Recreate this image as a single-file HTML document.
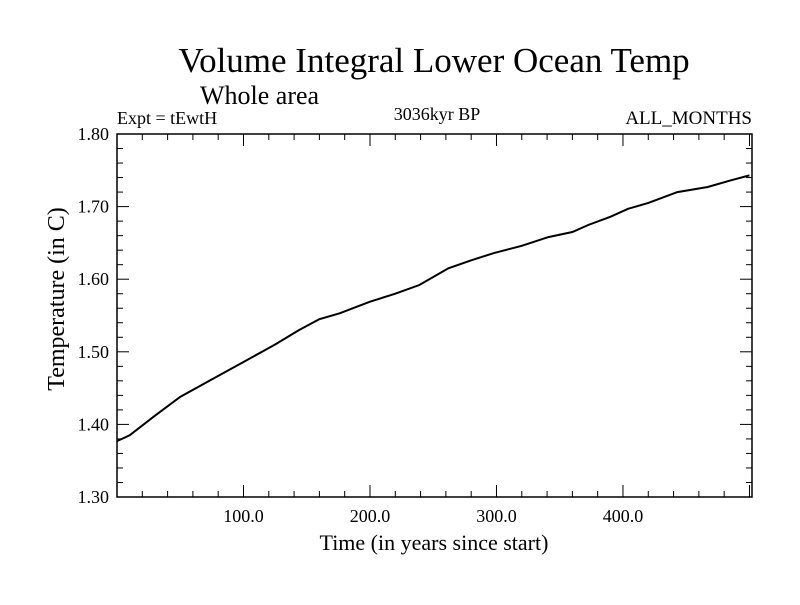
<!DOCTYPE html>
<html><head><meta charset="utf-8"><style>
body{margin:0;background:#fff}
svg text{font-family:"Liberation Serif",serif;fill:#000}
</style></head><body>
<svg width="800" height="600">
<rect width="800" height="600" fill="#fff"/>
<text x="434" y="72" font-size="35" text-anchor="middle">Volume Integral Lower Ocean Temp</text>
<text x="200" y="104" font-size="26">Whole area</text>
<text x="117" y="124" font-size="18">Expt = tEwtH</text>
<text x="437" y="120" font-size="18" text-anchor="middle">3036kyr BP</text>
<text x="752" y="124" font-size="19" text-anchor="end">ALL_MONTHS</text>
<g id="axes"></g>
<text x="434" y="550" font-size="22" text-anchor="middle">Time (in years since start)</text>
<text transform="translate(64,299) rotate(-90)" font-size="24" text-anchor="middle">Temperature (in C)</text>
</svg>
<script>
const years=[0,10,30,50,75,100,125,144,160,176,200,220,239,250,262,280,298,320,341,360,373,390,404,420,443,467,485,500];
const temps=[1.377,1.385,1.412,1.438,1.462,1.486,1.510,1.530,1.545,1.553,1.569,1.580,1.592,1.603,1.615,1.626,1.636,1.646,1.658,1.665,1.675,1.686,1.697,1.705,1.720,1.727,1.736,1.743];
const xTicks=[100,200,300,400];
const yTicks=[1.3,1.4,1.5,1.6,1.7,1.8];
const L=117,R=752,T=134,B=497,X0=0,X1=502,Y0=1.3,Y1=1.8;
const sx=v=>L+(v-X0)/(X1-X0)*(R-L);
const sy=v=>B-(v-Y0)/(Y1-Y0)*(B-T);
const ns='http://www.w3.org/2000/svg';
const g=document.getElementById('axes');
function mk(t,a,p){const e=document.createElementNS(ns,t);for(const k in a)e.setAttribute(k,a[k]);(p||g).appendChild(e);return e;}
const frame=mk('rect',{x:L,y:T,width:R-L,height:B-T,fill:'none',stroke:'#000','stroke-width':1.5});


for(let v=20;v<X1;v+=20){const x=sx(v),big=v%100===0,l=big?12:6;
mk('line',{x1:x,x2:x,y1:B,y2:B-l,stroke:'#000'});mk('line',{x1:x,x2:x,y1:T,y2:T+l,stroke:'#000'});}
for(let i=0;i<=25;i++){const v=Y0+i*0.02,y=sy(v),big=i%5===0,l=big?12:6;
mk('line',{x1:L,x2:L+l,y1:y,y2:y,stroke:'#000'});mk('line',{x1:R,x2:R-l,y1:y,y2:y,stroke:'#000'});}
xTicks.forEach(v=>{const t=mk('text',{x:sx(v),y:B+25,'font-size':18,'text-anchor':'middle'});t.textContent=v.toFixed(1);

});
yTicks.forEach(v=>{const t=mk('text',{x:L-8,y:sy(v)+6,'font-size':18,'text-anchor':'end'});t.textContent=v.toFixed(2);

});
const line=mk('polyline',{points:years.map((y,i)=>sx(y)+','+sy(temps[i])).join(' '),fill:'none',stroke:'#000','stroke-width':2});


</script>
</body></html>
